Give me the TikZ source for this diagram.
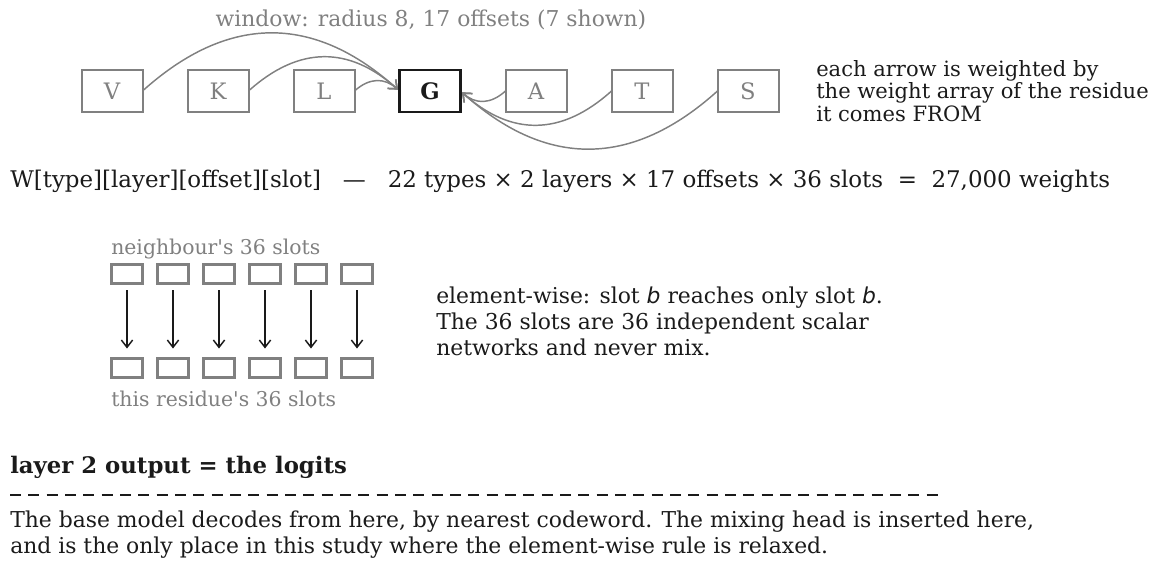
\documentclass[tikz,border=0pt]{standalone}
\usepackage{fontspec}
\setmainfont{DejaVu Serif}
\newfontfamily\mathsans{DejaVu Sans}
\usetikzlibrary{arrows.meta, positioning}
\definecolor{softgray}{RGB}{128,128,128}
\definecolor{ink}{RGB}{26,26,26}

\begin{document}
\begin{tikzpicture}[
  x=0.75pt, y=-0.75pt,
  res/.style = {draw=softgray, line width=1.5pt, minimum width=45.75pt, minimum height=31.5pt,
                inner sep=0pt, outer sep=0pt, text=softgray, font=\fontsize{17}{20}\selectfont},
  centre/.style = {res, draw=ink, line width=2.2pt, text=ink, font=\fontsize{17}{20}\selectfont\bfseries},
  slot/.style = {draw=softgray, line width=1.7pt, minimum width=23.25pt, minimum height=14.25pt, inner sep=0pt, outer sep=0pt},
  link/.style = {draw=softgray, line width=1.1pt, -{Straight Barb[length=5.5pt, width=9pt]}, shorten >=1.5pt},
  pass/.style = {draw=ink, line width=1.1pt, -{Straight Barb[length=5.5pt, width=8.5pt]}, shorten <=5pt, shorten >=7.5pt},
  note/.style = {anchor=west, inner sep=0pt, align=left, text=ink, font=\fontsize{16.4}{19.5}\selectfont},
  caption/.style = {anchor=west, inner sep=0pt, text=softgray, font=\fontsize{15.3}{17}\selectfont}
]
  \useasboundingbox (0,0) rectangle (1156,568);

  % window of residues round the centre one
  \node[res] (V) at (112,91) {V};
  \node[res, right=33.75pt of V] (K) {K};
  \node[res, right=33.75pt of K] (L) {L};
  \node[centre, right=33.75pt of L] (G) {G};
  \node[res, right=33.75pt of G] (A) {A};
  \node[res, right=33.75pt of A] (T) {T};
  \node[res, right=33.75pt of T] (S) {S};

  \node[text=softgray, inner sep=0pt, font=\fontsize{16.4}{19}\selectfont] (window) at (431,20) {window: radius 8, 17 offsets (7 shown)};

  \foreach \nb in {V,K,L}
    \draw[link] (\nb.east) to[bend left=42, looseness=1.15] (G.west);
  \foreach \nb in {A,T,S}
    \draw[link] (\nb.west) to[bend left=42, looseness=1.15] (G.east);

  \node[note, font=\fontsize{15.8}{16.9}\selectfont] (weighted) at (816,91) {each arrow is weighted by\\the weight array of the residue\\it comes FROM};

  % weight table
  \node[note, font=\fontsize{17.2}{20}\selectfont] (table) at (10,181) {W[type][layer][offset][slot]\ \ \ —\ \ \ 22 types × 2 layers × 17 offsets × 36 slots\ \ =\ \ 27,000 weights};

  % slots, element-wise
  \node[caption] (nbcap) at (111,249) {neighbour\textquotesingle s 36 slots};
  \foreach \i in {1,...,6} {
    \node[slot] (in\i) at (127+46*\i-46,274) {};
    \node[slot] (out\i) at (127+46*\i-46,368) {};
    \draw[pass] (in\i.south) -- (out\i.north);
  }
  \node[caption] (ownCap) at (111,399) {this residue\textquotesingle s 36 slots};

  \node[note] (rule) at (436,321) {element-wise: slot {\mathsans\itshape b} reaches only slot {\mathsans\itshape b}.\\The 36 slots are 36 independent scalar\\networks and never mix.};

  % output layer
  \node[note, font=\fontsize{17.1}{20}\selectfont\bfseries] (logits) at (10,467) {layer 2 output = the logits};
  \coordinate (cutL) at (10,495);
  \coordinate (cutR) at (942,495);
  \draw[ink, line width=2.1pt, dash pattern=on 8.25pt off 5.5pt] (cutL) -- (cutR);
  \node[note] (decode) at (10,535) {The base model decodes from here, by nearest codeword. The mixing head is inserted here,\\and is the only place in this study where the element-wise rule is relaxed.};

\end{tikzpicture}
\end{document}
